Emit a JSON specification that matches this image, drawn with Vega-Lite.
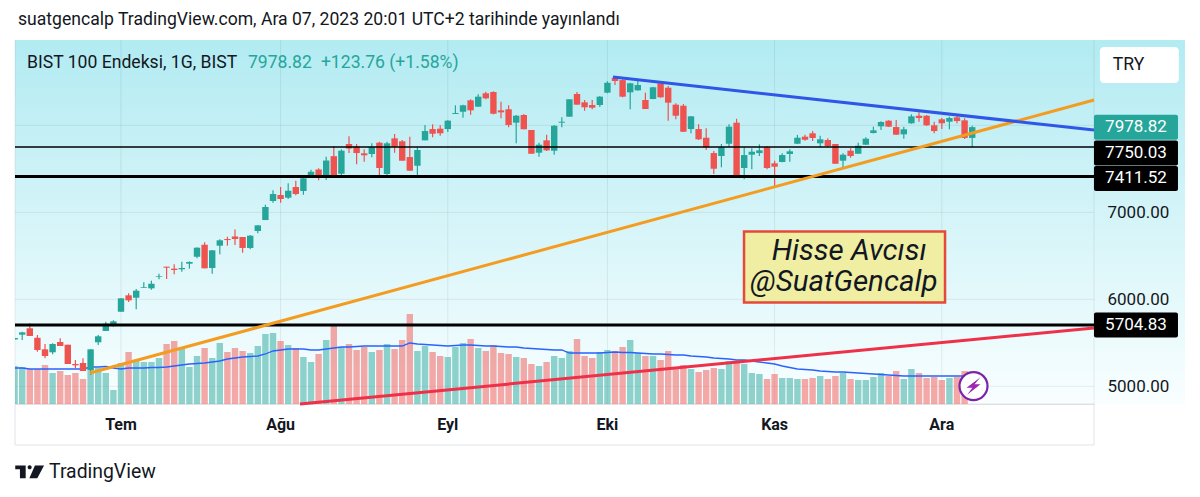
{
  "$schema": "https://vega.github.io/schema/vega-lite/v6.json",
  "width": 1079,
  "height": 364,
  "autosize": {"type": "none"},
  "padding": {"left": 15, "top": 40, "right": 106, "bottom": 93},
  "background": "#ffffff",
  "title": {
    "text": "suatgencalp TradingView.com, Ara 07, 2023 20:01 UTC+2 tarihinde yayınlandı",
    "anchor": "start",
    "frame": "group",
    "dx": 3,
    "offset": 11,
    "font": "Roboto",
    "fontSize": 17.6,
    "fontWeight": "normal",
    "color": "#131722"
  },
  "datasets": {
    "bars": [
      {"i":0,"o":5538,"h":5555,"l":5532,"c":5555,"v":38,"ma":36},
      {"i":1,"o":5593,"h":5627,"l":5532,"c":5620,"v":37,"ma":36},
      {"i":2,"o":5667,"h":5724,"l":5578,"c":5578,"v":35,"ma":35},
      {"i":3,"o":5558,"h":5590,"l":5398,"c":5417,"v":35,"ma":35},
      {"i":4,"o":5425,"h":5486,"l":5322,"c":5348,"v":39,"ma":35},
      {"i":5,"o":5391,"h":5494,"l":5368,"c":5486,"v":31,"ma":35},
      {"i":6,"o":5509,"h":5552,"l":5463,"c":5463,"v":33,"ma":35},
      {"i":7,"o":5478,"h":5478,"l":5256,"c":5256,"v":29,"ma":35},
      {"i":8,"o":5256,"h":5302,"l":5207,"c":5241,"v":31,"ma":35},
      {"i":9,"o":5268,"h":5322,"l":5176,"c":5176,"v":25,"ma":35},
      {"i":10,"o":5187,"h":5425,"l":5130,"c":5425,"v":36,"ma":37},
      {"i":11,"o":5506,"h":5590,"l":5475,"c":5575,"v":36,"ma":37},
      {"i":12,"o":5636,"h":5742,"l":5636,"c":5719,"v":31,"ma":37.5},
      {"i":13,"o":5704,"h":5759,"l":5685,"c":5747,"v":14,"ma":36},
      {"i":14,"o":5857,"h":6011,"l":5857,"c":6011,"v":41,"ma":35},
      {"i":15,"o":6046,"h":6069,"l":5969,"c":5988,"v":52,"ma":36},
      {"i":16,"o":6018,"h":6118,"l":5885,"c":6099,"v":44,"ma":36},
      {"i":17,"o":6130,"h":6195,"l":6130,"c":6138,"v":42,"ma":36},
      {"i":18,"o":6126,"h":6214,"l":6110,"c":6179,"v":42,"ma":36.5},
      {"i":19,"o":6256,"h":6294,"l":6230,"c":6264,"v":46,"ma":36.5},
      {"i":20,"o":6375,"h":6375,"l":6233,"c":6363,"v":60,"ma":37},
      {"i":21,"o":6352,"h":6402,"l":6287,"c":6337,"v":63,"ma":38},
      {"i":22,"o":6345,"h":6432,"l":6317,"c":6360,"v":57,"ma":39},
      {"i":23,"o":6409,"h":6437,"l":6352,"c":6429,"v":37,"ma":40},
      {"i":24,"o":6489,"h":6598,"l":6471,"c":6593,"v":48,"ma":40.5},
      {"i":25,"o":6627,"h":6655,"l":6356,"c":6356,"v":56,"ma":41},
      {"i":26,"o":6360,"h":6566,"l":6294,"c":6563,"v":46,"ma":42},
      {"i":27,"o":6616,"h":6689,"l":6517,"c":6678,"v":61,"ma":43},
      {"i":28,"o":6693,"h":6719,"l":6616,"c":6681,"v":52,"ma":45},
      {"i":29,"o":6722,"h":6802,"l":6624,"c":6693,"v":56,"ma":46},
      {"i":30,"o":6716,"h":6716,"l":6535,"c":6590,"v":53,"ma":47},
      {"i":31,"o":6590,"h":6739,"l":6575,"c":6731,"v":51,"ma":47.5},
      {"i":32,"o":6785,"h":6854,"l":6758,"c":6850,"v":58,"ma":48},
      {"i":33,"o":6911,"h":7087,"l":6911,"c":7061,"v":70,"ma":50},
      {"i":34,"o":7130,"h":7253,"l":7110,"c":7210,"v":71,"ma":53},
      {"i":35,"o":7199,"h":7291,"l":7110,"c":7153,"v":63,"ma":54},
      {"i":36,"o":7168,"h":7333,"l":7153,"c":7248,"v":59,"ma":55},
      {"i":37,"o":7291,"h":7363,"l":7195,"c":7210,"v":56,"ma":55},
      {"i":38,"o":7245,"h":7409,"l":7202,"c":7391,"v":47,"ma":55},
      {"i":39,"o":7429,"h":7489,"l":7402,"c":7466,"v":42,"ma":54},
      {"i":40,"o":7492,"h":7506,"l":7368,"c":7400,"v":50,"ma":54},
      {"i":41,"o":7417,"h":7639,"l":7371,"c":7595,"v":64,"ma":55},
      {"i":42,"o":7645,"h":7762,"l":7402,"c":7429,"v":78,"ma":56},
      {"i":43,"o":7443,"h":7724,"l":7402,"c":7708,"v":57,"ma":57},
      {"i":44,"o":7785,"h":7873,"l":7681,"c":7733,"v":60,"ma":57},
      {"i":45,"o":7758,"h":7785,"l":7552,"c":7681,"v":54,"ma":57.5},
      {"i":46,"o":7678,"h":7724,"l":7581,"c":7655,"v":57,"ma":58},
      {"i":47,"o":7670,"h":7793,"l":7632,"c":7750,"v":52,"ma":58},
      {"i":48,"o":7800,"h":7811,"l":7417,"c":7509,"v":54,"ma":58},
      {"i":49,"o":7440,"h":7811,"l":7417,"c":7793,"v":60,"ma":58},
      {"i":50,"o":7850,"h":7900,"l":7685,"c":7754,"v":55,"ma":58},
      {"i":51,"o":7816,"h":7831,"l":7593,"c":7593,"v":64,"ma":58},
      {"i":52,"o":7635,"h":7869,"l":7478,"c":7478,"v":90,"ma":61},
      {"i":53,"o":7535,"h":7747,"l":7409,"c":7716,"v":53,"ma":60},
      {"i":54,"o":7827,"h":8003,"l":7827,"c":7934,"v":58,"ma":59.5},
      {"i":55,"o":7957,"h":8011,"l":7862,"c":7903,"v":52,"ma":59},
      {"i":56,"o":7961,"h":8000,"l":7880,"c":7908,"v":48,"ma":58.5},
      {"i":57,"o":7957,"h":8061,"l":7923,"c":8053,"v":47,"ma":58},
      {"i":58,"o":8130,"h":8230,"l":8130,"c":8141,"v":57,"ma":58.5},
      {"i":59,"o":8156,"h":8235,"l":8087,"c":8230,"v":61,"ma":59},
      {"i":60,"o":8287,"h":8299,"l":8122,"c":8172,"v":65,"ma":59},
      {"i":61,"o":8214,"h":8356,"l":8214,"c":8329,"v":56,"ma":58.5},
      {"i":62,"o":8368,"h":8386,"l":8299,"c":8310,"v":53,"ma":58},
      {"i":63,"o":8383,"h":8391,"l":8126,"c":8133,"v":59,"ma":58},
      {"i":64,"o":8172,"h":8271,"l":8080,"c":8149,"v":51,"ma":57.5},
      {"i":65,"o":8184,"h":8230,"l":7977,"c":8003,"v":50,"ma":57},
      {"i":66,"o":8030,"h":8118,"l":7793,"c":8110,"v":47,"ma":57},
      {"i":67,"o":8118,"h":8130,"l":7954,"c":7954,"v":46,"ma":56},
      {"i":68,"o":7946,"h":7946,"l":7673,"c":7673,"v":40,"ma":55.5},
      {"i":69,"o":7685,"h":7800,"l":7639,"c":7777,"v":38,"ma":55},
      {"i":70,"o":7827,"h":7892,"l":7704,"c":7712,"v":42,"ma":54.5},
      {"i":71,"o":7708,"h":8003,"l":7662,"c":7995,"v":48,"ma":54},
      {"i":72,"o":8030,"h":8092,"l":7977,"c":8041,"v":46,"ma":54},
      {"i":73,"o":8099,"h":8299,"l":8099,"c":8299,"v":53,"ma":51},
      {"i":74,"o":8360,"h":8383,"l":8237,"c":8237,"v":65,"ma":51},
      {"i":75,"o":8264,"h":8291,"l":8168,"c":8207,"v":48,"ma":51},
      {"i":76,"o":8233,"h":8291,"l":8184,"c":8202,"v":46,"ma":51},
      {"i":77,"o":8233,"h":8337,"l":8210,"c":8329,"v":52,"ma":51},
      {"i":78,"o":8375,"h":8506,"l":8368,"c":8489,"v":54,"ma":51.5},
      {"i":79,"o":8547,"h":8566,"l":8463,"c":8509,"v":53,"ma":52},
      {"i":80,"o":8520,"h":8528,"l":8322,"c":8329,"v":57,"ma":51.5},
      {"i":81,"o":8379,"h":8489,"l":8184,"c":8483,"v":64,"ma":51.5},
      {"i":82,"o":8402,"h":8520,"l":8398,"c":8463,"v":51,"ma":51},
      {"i":83,"o":8291,"h":8375,"l":8187,"c":8187,"v":48,"ma":50.5},
      {"i":84,"o":8302,"h":8444,"l":8299,"c":8437,"v":48,"ma":50},
      {"i":85,"o":8483,"h":8509,"l":8317,"c":8322,"v":44,"ma":50},
      {"i":86,"o":8432,"h":8452,"l":8053,"c":8260,"v":53,"ma":49.5},
      {"i":87,"o":8237,"h":8253,"l":8069,"c":8110,"v":36,"ma":49},
      {"i":88,"o":8225,"h":8245,"l":7923,"c":7926,"v":39,"ma":49},
      {"i":89,"o":7957,"h":8107,"l":7908,"c":8103,"v":35,"ma":48},
      {"i":90,"o":7957,"h":8011,"l":7831,"c":7839,"v":32,"ma":47.5},
      {"i":91,"o":7857,"h":7965,"l":7716,"c":7747,"v":34,"ma":47},
      {"i":92,"o":7681,"h":7704,"l":7440,"c":7501,"v":36,"ma":46},
      {"i":93,"o":7647,"h":7785,"l":7517,"c":7747,"v":35,"ma":45.5},
      {"i":94,"o":7788,"h":8011,"l":7754,"c":7984,"v":43,"ma":45},
      {"i":95,"o":8030,"h":8076,"l":7409,"c":7417,"v":42,"ma":44},
      {"i":96,"o":7509,"h":7747,"l":7379,"c":7658,"v":40,"ma":44},
      {"i":97,"o":7662,"h":7735,"l":7494,"c":7696,"v":31,"ma":43},
      {"i":98,"o":7681,"h":7781,"l":7647,"c":7712,"v":30,"ma":42},
      {"i":99,"o":7750,"h":7762,"l":7494,"c":7509,"v":25,"ma":41},
      {"i":100,"o":7563,"h":7593,"l":7294,"c":7524,"v":30,"ma":40},
      {"i":101,"o":7578,"h":7678,"l":7575,"c":7658,"v":26,"ma":38},
      {"i":102,"o":7670,"h":7724,"l":7581,"c":7701,"v":26,"ma":36.5},
      {"i":103,"o":7788,"h":7890,"l":7785,"c":7857,"v":25,"ma":35},
      {"i":104,"o":7869,"h":7892,"l":7823,"c":7834,"v":25,"ma":34.5},
      {"i":105,"o":7908,"h":7934,"l":7819,"c":7854,"v":26,"ma":34},
      {"i":106,"o":7793,"h":7880,"l":7747,"c":7839,"v":28,"ma":33},
      {"i":107,"o":7831,"h":7850,"l":7747,"c":7762,"v":25,"ma":32.5},
      {"i":108,"o":7785,"h":7785,"l":7555,"c":7558,"v":28,"ma":32},
      {"i":109,"o":7593,"h":7678,"l":7517,"c":7662,"v":31,"ma":32},
      {"i":110,"o":7708,"h":7735,"l":7627,"c":7647,"v":25,"ma":31.5},
      {"i":111,"o":7673,"h":7800,"l":7670,"c":7765,"v":24,"ma":31},
      {"i":112,"o":7777,"h":7862,"l":7773,"c":7846,"v":24,"ma":30.5},
      {"i":113,"o":7911,"h":7984,"l":7908,"c":7942,"v":27,"ma":30},
      {"i":114,"o":7988,"h":8046,"l":7946,"c":8038,"v":31,"ma":29.5},
      {"i":115,"o":8053,"h":8057,"l":7980,"c":7984,"v":28,"ma":29},
      {"i":116,"o":7980,"h":8061,"l":7888,"c":7892,"v":33,"ma":28.5},
      {"i":117,"o":7896,"h":7984,"l":7846,"c":7954,"v":25,"ma":28},
      {"i":118,"o":8023,"h":8126,"l":8018,"c":8103,"v":35,"ma":28},
      {"i":119,"o":8110,"h":8149,"l":8041,"c":8084,"v":31,"ma":28},
      {"i":120,"o":8110,"h":8118,"l":7992,"c":8000,"v":26,"ma":28},
      {"i":121,"o":8000,"h":8041,"l":7908,"c":7934,"v":27,"ma":28},
      {"i":122,"o":8069,"h":8084,"l":7957,"c":8023,"v":24,"ma":28},
      {"i":123,"o":8041,"h":8099,"l":7954,"c":8084,"v":26,"ma":28},
      {"i":124,"o":8092,"h":8126,"l":8023,"c":8049,"v":27,"ma":28},
      {"i":125,"o":8057,"h":8080,"l":7842,"c":7855.06,"v":33,"ma":28},
      {"i":126,"o":7855.06,"h":7995,"l":7747,"c":7978.82,"v":null,"ma":null}
    ],
    "months": [
      {"i":14,"label":"Tem"},
      {"i":35,"label":"Ağu"},
      {"i":57,"label":"Eyl"},
      {"i":78,"label":"Eki"},
      {"i":100,"label":"Kas"},
      {"i":122,"label":"Ara"}
    ],
    "trend": [
      {"line":"orange","i":9.92,"price":5153},
      {"line":"orange","i":142.03,"price":8291},
      {"line":"blue","i":78.74,"price":8555},
      {"line":"blue","i":142.03,"price":7946},
      {"line":"red","i":37.55,"price":4796.6},
      {"line":"red","i":142.03,"price":5670}
    ],
    "levels": [
      {"price":7750.03},
      {"price":7411.52},
      {"price":5704.83}
    ],
    "tags": [
      {"label":"7978.82","price":7978.82},
      {"label":"7750.03","price":7750.03},
      {"label":"7411.52","price":7411.52},
      {"label":"5704.83","price":5704.83}
    ]
  },
  "resolve": {"scale": {"y": "independent"}},
  "layer": [
    {
      "data": {"values": [{"pane":"chart"}]},
      "mark": {"type": "rect", "color": {"gradient": "linear", "x1": 0, "y1": 0, "x2": 0, "y2": 1, "stops": [{"offset": 0, "color": "#b2ebf2"}, {"offset": 1, "color": "#f9feff"}]}},
      "encoding": {
        "x": {"datum": 0.0526, "type": "quantitative", "scale": {"domain": [0.0526, 142.026], "nice": false, "zero": false, "padding": 0}, "axis": null},
        "x2": {"datum": 154},
        "y": {"datum": 8980.46, "type": "quantitative", "scale": {"domain": [4796.55, 8980.46], "nice": false, "zero": false}, "axis": null},
        "y2": {"datum": 4796.55}
      }
    },
    {
      "data": {"values": [{"pane":"time"}]},
      "mark": {"type": "rect", "fill": null, "stroke": "#e0e3eb", "strokeWidth": 1},
      "encoding": {
        "x": {"datum": 0.0526, "type": "quantitative", "axis": null},
        "x2": {"datum": 142.026},
        "y": {"datum": 4796.55, "type": "quantitative", "scale": {"domain": [4796.55, 8980.46], "nice": false, "zero": false}, "axis": null},
        "y2": {"datum": 4325.3}
      }
    },
    {
      "data": {"values": [{"i":14},{"i":35},{"i":57},{"i":78},{"i":100},{"i":122},{"i":0.0526},{"i":142.026}]},
      "mark": {"type": "rule", "stroke": "#000000", "strokeOpacity": 0.07, "strokeWidth": 1},
      "encoding": {"x": {"field": "i", "type": "quantitative", "axis": null}}
    },
    {
      "data": {"values": [{"price":5000},{"price":6000},{"price":7000},{"price":8000}]},
      "mark": {"type": "rule", "stroke": "#000000", "strokeOpacity": 0.07, "strokeWidth": 1},
      "encoding": {"y": {"field": "price", "type": "quantitative", "scale": {"domain": [4796.55, 8980.46], "nice": false, "zero": false}, "axis": {"orient": "right", "values": [5000,6000,7000], "format": ".2f", "title": null, "grid": false, "ticks": false, "domain": false, "labelPadding": 13, "labelFont": "Roboto", "labelFontSize": 17, "labelColor": "#131722", "zindex": 1}}}
    },
    {
      "data": {"name": "months"},
      "mark": {"type": "text", "font": "Roboto", "fontSize": 16, "fontWeight": "bold", "color": "#131722", "baseline": "middle"},
      "encoding": {
        "x": {"field": "i", "type": "quantitative", "axis": null},
        "y": {"datum": 4555, "type": "quantitative", "scale": {"domain": [4796.55, 8980.46], "nice": false, "zero": false}, "axis": null},
        "text": {"field": "label"}
      }
    },
    {
      "data": {"name": "bars"},
      "mark": {"type": "bar", "size": 6.4, "opacity": 0.5, "clip": true},
      "encoding": {
        "x": {"field": "i", "type": "quantitative", "axis": null},
        "y": {"field": "v", "type": "quantitative", "scale": {"domain": [0, 364], "nice": false}, "axis": null},
        "color": {"condition": {"test": "datum.c>=datum.o", "value": "#26a69a"}, "value": "#ef5350"}
      }
    },
    {
      "data": {"name": "bars"},
      "mark": {"type": "line", "stroke": "#2962ff", "strokeWidth": 1.3, "clip": true},
      "encoding": {
        "x": {"field": "i", "type": "quantitative", "axis": null},
        "y": {"field": "ma", "type": "quantitative", "scale": {"domain": [0, 364], "nice": false}, "axis": null}
      }
    },
    {
      "data": {"name": "bars"},
      "mark": {"type": "rule", "strokeWidth": 1.2, "clip": true},
      "encoding": {
        "x": {"field": "i", "type": "quantitative", "axis": null},
        "y": {"field": "l", "type": "quantitative", "scale": {"domain": [4796.55, 8980.46], "nice": false, "zero": false}, "axis": null},
        "y2": {"field": "h"},
        "color": {"condition": {"test": "datum.c>=datum.o", "value": "#26a69a"}, "value": "#ef5350"}
      }
    },
    {
      "data": {"name": "bars"},
      "mark": {"type": "bar", "size": 6.4, "clip": true},
      "encoding": {
        "x": {"field": "i", "type": "quantitative", "axis": null},
        "y": {"field": "o", "type": "quantitative", "scale": {"domain": [4796.55, 8980.46], "nice": false, "zero": false}, "axis": null},
        "y2": {"field": "c"},
        "color": {"condition": {"test": "datum.c>=datum.o", "value": "#26a69a"}, "value": "#ef5350"}
      }
    },
    {
      "data": {"name": "levels"},
      "mark": {"type": "rule", "stroke": "#000000"},
      "encoding": {
        "y": {"field": "price", "type": "quantitative", "scale": {"domain": [4796.55, 8980.46], "nice": false, "zero": false}, "axis": null},
        "strokeWidth": {"condition": {"test": "datum.price===7750.03", "value": 1.5}, "value": 3}
      }
    },
    {
      "data": {"name": "trend"},
      "mark": {"type": "line", "strokeWidth": 3},
      "encoding": {
        "x": {"field": "i", "type": "quantitative", "axis": null},
        "y": {"field": "price", "type": "quantitative", "scale": {"domain": [4796.55, 8980.46], "nice": false, "zero": false}, "axis": null},
        "color": {"field": "line", "type": "nominal", "legend": null, "scale": {"domain": ["orange","blue","red"], "range": ["#f39c1f","#3056e8","#ee3048"]}}
      }
    },
    {
      "data": {"values": [{"pane":"box"}]},
      "mark": {"type": "rect", "width": 201, "height": 71, "fill": "#efeea2", "stroke": "#e5493a", "strokeWidth": 2.5},
      "encoding": {
        "x": {"datum": 109.2, "type": "quantitative", "axis": null},
        "y": {"datum": 6371, "type": "quantitative", "scale": {"domain": [4796.55, 8980.46], "nice": false, "zero": false}, "axis": null}
      }
    },
    {
      "data": {"values": [{"label":"Hisse Avcısı"}]},
      "mark": {"type": "text", "font": "Roboto", "fontSize": 29.5, "fontStyle": "italic", "color": "#131722", "baseline": "middle"},
      "encoding": {
        "x": {"datum": 109.8, "type": "quantitative", "axis": null},
        "y": {"datum": 6555, "type": "quantitative", "scale": {"domain": [4796.55, 8980.46], "nice": false, "zero": false}, "axis": null},
        "text": {"field": "label"}
      }
    },
    {
      "data": {"values": [{"label":"@SuatGencalp"}]},
      "mark": {"type": "text", "font": "Roboto", "fontSize": 29.5, "fontStyle": "italic", "color": "#131722", "baseline": "middle"},
      "encoding": {
        "x": {"datum": 109.1, "type": "quantitative", "axis": null},
        "y": {"datum": 6194, "type": "quantitative", "scale": {"domain": [4796.55, 8980.46], "nice": false, "zero": false}, "axis": null},
        "text": {"field": "label"}
      }
    },
    {
      "data": {"values": [{"pane":"volume mark"}]},
      "mark": {"type": "point", "shape": "circle", "size": 784, "filled": true, "fill": "#ffffff", "stroke": "#7b24a8", "strokeWidth": 2.2, "opacity": 1},
      "encoding": {
        "x": {"datum": 126.17, "type": "quantitative", "axis": null},
        "y": {"datum": 5003, "type": "quantitative", "scale": {"domain": [4796.55, 8980.46], "nice": false, "zero": false}, "axis": null}
      }
    },
    {
      "data": {"values": [{"pane":"volume bolt"}]},
      "mark": {"type": "point", "shape": "M.5,-.62 L-.5,.12 H-.08 L-.45,.62 L.5,-.12 H.08 Z", "size": 784, "filled": true, "fill": "#9c27b0", "strokeWidth": 0, "opacity": 1},
      "encoding": {
        "x": {"datum": 126.17, "type": "quantitative", "axis": null},
        "y": {"datum": 5003, "type": "quantitative", "scale": {"domain": [4796.55, 8980.46], "nice": false, "zero": false}, "axis": null}
      }
    },
    {
      "data": {"values": [{"label":"BIST 100 Endeksi, 1G, BIST"}]},
      "mark": {"type": "text", "font": "Roboto", "fontSize": 17.6, "color": "#131722", "align": "left", "baseline": "middle"},
      "encoding": {
        "x": {"datum": 1.63, "type": "quantitative", "axis": null},
        "y": {"datum": 8716, "type": "quantitative", "scale": {"domain": [4796.55, 8980.46], "nice": false, "zero": false}, "axis": null},
        "text": {"field": "label"}
      }
    },
    {
      "data": {"values": [{"label":"7978.82"}]},
      "mark": {"type": "text", "font": "Roboto", "fontSize": 17.6, "color": "#26a69a", "align": "left", "baseline": "middle"},
      "encoding": {
        "x": {"datum": 30.7, "type": "quantitative", "axis": null},
        "y": {"datum": 8716, "type": "quantitative", "scale": {"domain": [4796.55, 8980.46], "nice": false, "zero": false}, "axis": null},
        "text": {"field": "label"}
      }
    },
    {
      "data": {"values": [{"label":"+123.76 (+1.58%)"}]},
      "mark": {"type": "text", "font": "Roboto", "fontSize": 17.6, "color": "#26a69a", "align": "left", "baseline": "middle"},
      "encoding": {
        "x": {"datum": 40.3, "type": "quantitative", "axis": null},
        "y": {"datum": 8716, "type": "quantitative", "scale": {"domain": [4796.55, 8980.46], "nice": false, "zero": false}, "axis": null},
        "text": {"field": "label"}
      }
    },
    {
      "data": {"values": [{"pane":"currency"}]},
      "mark": {"type": "rect", "width": 79, "height": 36, "fill": "#ffffff", "cornerRadius": 4},
      "encoding": {
        "x": {"datum": 148, "type": "quantitative", "axis": null},
        "y": {"datum": 8693, "type": "quantitative", "scale": {"domain": [4796.55, 8980.46], "nice": false, "zero": false}, "axis": null}
      }
    },
    {
      "data": {"values": [{"label":"TRY"}]},
      "mark": {"type": "text", "font": "Roboto", "fontSize": 17.6, "color": "#131722", "align": "left", "baseline": "middle"},
      "encoding": {
        "x": {"datum": 144.5, "type": "quantitative", "axis": null},
        "y": {"datum": 8693, "type": "quantitative", "scale": {"domain": [4796.55, 8980.46], "nice": false, "zero": false}, "axis": null},
        "text": {"field": "label"}
      }
    },
    {
      "data": {"name": "tags"},
      "mark": {"type": "rect", "width": 84, "height": 25, "cornerRadius": 2, "yOffset": {"expr": "datum.label==='7750.03'?6:datum.label==='7411.52'?2:0"}},
      "encoding": {
        "x": {"datum": 147.55, "type": "quantitative", "axis": null},
        "y": {"field": "price", "type": "quantitative", "scale": {"domain": [4796.55, 8980.46], "nice": false, "zero": false}, "axis": null},
        "color": {"condition": {"test": "datum.label==='7978.82'", "value": "#26a69a"}, "value": "#000000"}
      }
    },
    {
      "data": {"name": "tags"},
      "mark": {"type": "text", "font": "Roboto", "fontSize": 17, "color": "#ffffff", "baseline": "middle", "yOffset": {"expr": "datum.label==='7750.03'?6:datum.label==='7411.52'?2:0"}},
      "encoding": {
        "x": {"datum": 147.55, "type": "quantitative", "axis": null},
        "y": {"field": "price", "type": "quantitative", "scale": {"domain": [4796.55, 8980.46], "nice": false, "zero": false}, "axis": null},
        "text": {"field": "label"}
      }
    },
    {
      "data": {"values": [{"pane":"logo"}]},
      "mark": {"type": "point", "shape": "M-.98,-.45 H-.27 V.43 H-.66 V-.18 H-.98 Z M-.14,-.32 a.14,.14 0 1,0 .28,0 a.14,.14 0 1,0 -.28,0 Z M.36,-.45 H.98 L.52,.43 H-.02 Z", "size": 864, "filled": true, "fill": "#131722", "strokeWidth": 0, "opacity": 1},
      "encoding": {
        "x": {"datum": 1.98, "type": "quantitative", "axis": null},
        "y": {"datum": 4015, "type": "quantitative", "scale": {"domain": [4796.55, 8980.46], "nice": false, "zero": false}, "axis": null}
      }
    },
    {
      "data": {"values": [{"label":"TradingView"}]},
      "mark": {"type": "text", "font": "Roboto", "fontSize": 19.4, "color": "#131722", "align": "left", "baseline": "middle"},
      "encoding": {
        "x": {"datum": 4.53, "type": "quantitative", "axis": null},
        "y": {"datum": 4015, "type": "quantitative", "scale": {"domain": [4796.55, 8980.46], "nice": false, "zero": false}, "axis": null},
        "text": {"field": "label"}
      }
    }
  ]
}
